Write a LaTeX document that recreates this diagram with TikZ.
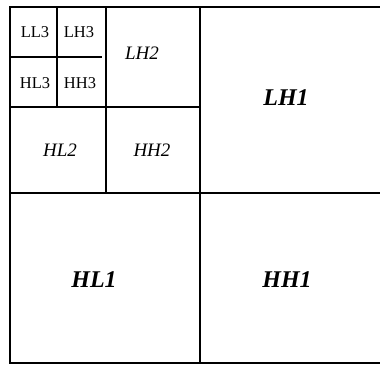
\documentclass[tikz,border=0pt]{standalone}
\usepackage{fontspec}
\setmainfont{Liberation Serif}
\begin{document}
\begin{tikzpicture}[x=1pt,y=-1pt,line width=1.1pt,
  lvlthree/.style={font=\fontsize{16.5}{16.5}\selectfont},
  lvltwo/.style={font=\fontsize{19}{19}\selectfont\itshape},
  lvlone/.style={font=\fontsize{24}{24}\selectfont\bfseries\itshape}]
\useasboundingbox (0,0) rectangle (380,364);
\draw (380,7) -- (10,7) -- (10,363) -- (380,363);
\draw (200,7) -- (200,363);
\draw (10,193) -- (380,193);
\draw (106,7) -- (106,193);
\draw (10,107) -- (200,107);
\draw (57,7) -- (57,107);
\draw (10,57) -- (102,57);
\node[lvlthree] (ll3) at (35,32) {LL3};
\node[lvlthree] (lh3) at (79,32) {LH3};
\node[lvlthree] (hl3) at (35,83) {HL3};
\node[lvlthree] (hh3) at (80,83) {HH3};
\node[lvltwo] (lh2) at (142,53) {LH2};
\node[lvltwo] (hl2) at (60,150) {HL2};
\node[lvltwo] (hh2) at (152,150) {HH2};
\node[lvlone] (lh1) at (286,98) {LH1};
\node[lvlone] (hl1) at (94,280) {HL1};
\node[lvlone] (hh1) at (287,280) {HH1};
\end{tikzpicture}
\end{document}
